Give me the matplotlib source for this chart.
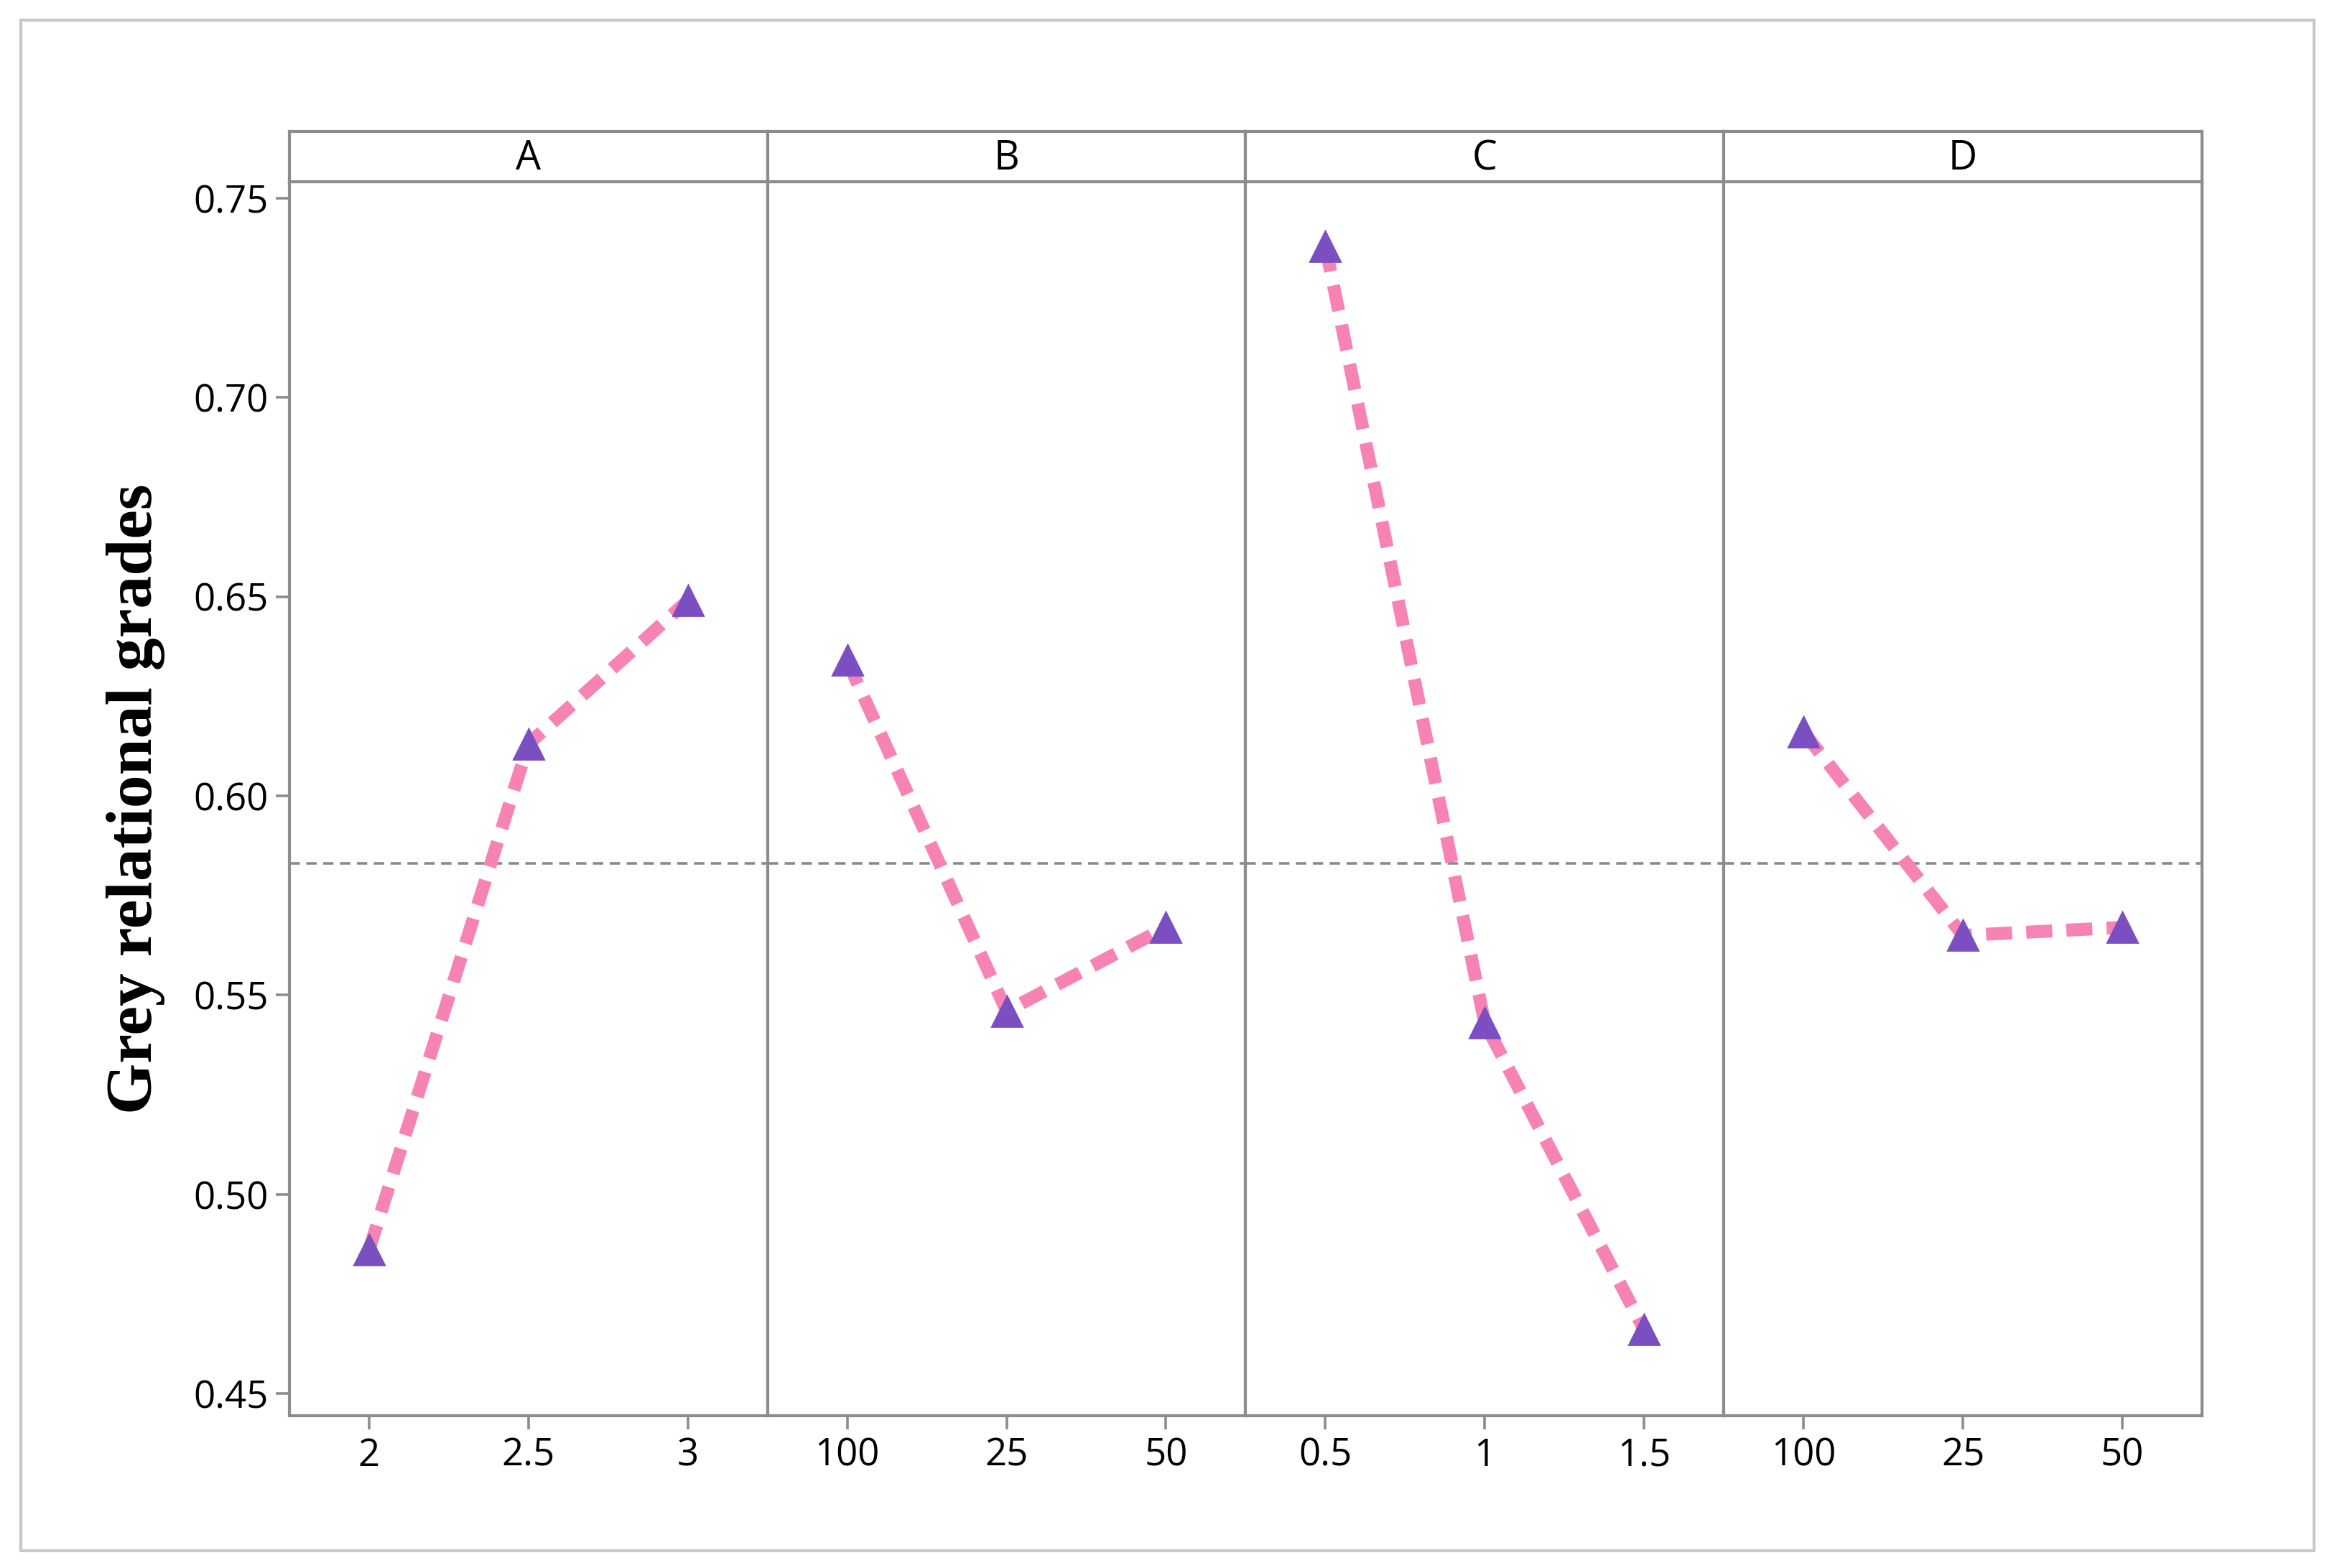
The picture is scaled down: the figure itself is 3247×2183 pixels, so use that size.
import matplotlib.pyplot as plt
from matplotlib.patches import Rectangle

FACTORS = ["A", "B", "C", "D"]
LEVELS = [["2", "2.5", "3"], ["100", "25", "50"], ["0.5", "1", "1.5"], ["100", "25", "50"]]
GRADES = [
    [0.486, 0.613, 0.649],
    [0.634, 0.546, 0.567],
    [0.738, 0.543, 0.466],
    [0.616, 0.565, 0.567],
]
MEAN_GRADE = 0.583
YTICKS = [0.45, 0.50, 0.55, 0.60, 0.65, 0.70, 0.75]

LINE_COLOR = "#f783b4"
MARKER_COLOR = "#7b4fc2"
FRAME = "#8c8c8c"


def main():
    plt.rcParams["font.family"] = ["Open Sans", "DejaVu Sans"]
    fig = plt.figure(figsize=(16.24, 10.915), dpi=200)
    fig.patches.append(Rectangle((0.009, 0.011), 0.983, 0.976, transform=fig.transFigure,
                                 fill=False, edgecolor="#c8c8c8", linewidth=1.5))

    left, right, bottom, top, strip_top = 0.124, 0.944, 0.097, 0.884, 0.916
    w = (right - left) / 4
    for i, name in enumerate(FACTORS):
        ax = fig.add_axes([left + i * w, bottom, w, top - bottom])
        x = range(3)
        ax.plot(x, GRADES[i], linestyle=(0, (2, 1.1)), color=LINE_COLOR, linewidth=6.5, zorder=2)
        ax.plot(x, GRADES[i], linestyle="none", marker="^", markersize=15,
                color=MARKER_COLOR, zorder=3)
        ax.axhline(MEAN_GRADE, color="#8a8a8a", linestyle=(0, (4, 2.5)), linewidth=1.3, zorder=1)
        ax.set_xlim(-0.5, 2.5)
        ax.set_ylim(0.4444, 0.7541)
        ax.set_xticks(list(x))
        ax.set_xticklabels(LEVELS[i], fontsize=19)
        for s in ax.spines.values():
            s.set_color(FRAME)
            s.set_linewidth(1.5)
        ax.tick_params(color=FRAME, length=7, width=1.3)
        if i == 0:
            ax.set_yticks(YTICKS)
            ax.set_yticklabels([f"{v:.2f}" for v in YTICKS], fontsize=19)
            ax.set_ylabel("Grey relational grades", fontsize=33, fontweight="bold",
                          family="Liberation Serif", labelpad=14)
        else:
            ax.set_yticks([])
        sax = fig.add_axes([left + i * w, top, w, strip_top - top])
        sax.set_xticks([])
        sax.set_yticks([])
        for s in sax.spines.values():
            s.set_color(FRAME)
            s.set_linewidth(1.5)
        sax.text(0.5, 0.45, name, ha="center", va="center", fontsize=20, transform=sax.transAxes)

    fig.savefig("out.png", dpi=200, facecolor="white")


if __name__ == "__main__":
    main()
